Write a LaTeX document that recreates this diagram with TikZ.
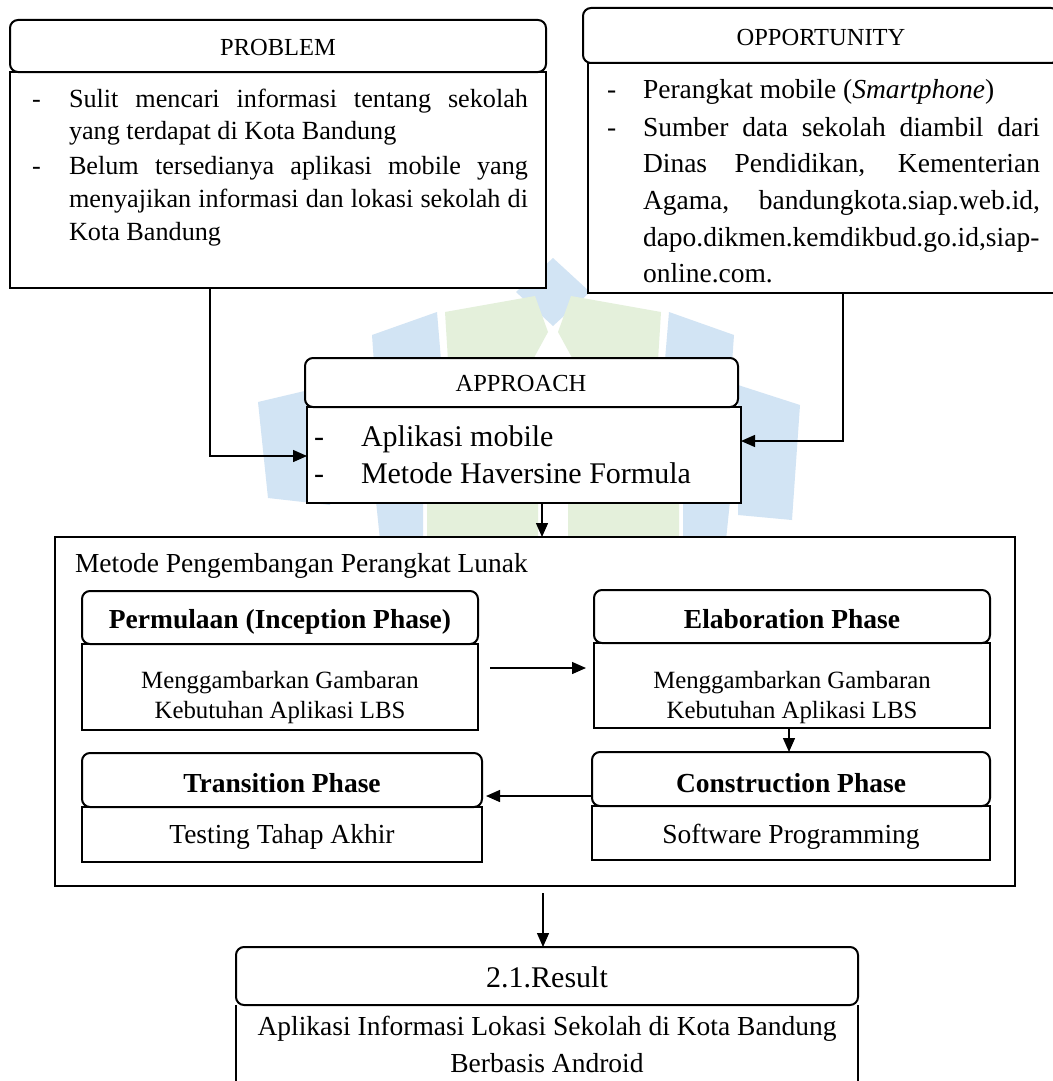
\documentclass[tikz,border=0pt]{standalone}
\usepackage{fontspec}
\setmainfont{Liberation Serif}
\usetikzlibrary{arrows.meta,calc}
\definecolor{wmblue}{RGB}{210,228,244}
\definecolor{wmgreen}{RGB}{228,240,219}
\newcommand{\jline}[2]{\makebox[#1pt][s]{#2}}
\begin{document}
\begin{tikzpicture}[x=1pt,y=-1pt,
  boxline/.style={draw=black,line width=2pt,fill=white,inner sep=0pt,outer sep=0pt},
  hdrbox/.style={boxline,rounded corners=8pt,anchor=north west},
  bodybox/.style={boxline,anchor=north west},
  conn/.style={draw=black,line width=1.4pt},
  arr/.style={conn,-{Triangle[length=14pt,width=12pt]}},
  txt/.style={inner sep=0pt,outer sep=0pt},
  hf/.style={txt,font=\fontsize{24.5}{29}\selectfont,anchor=base},
  pf/.style={txt,font=\fontsize{26.2}{33}\selectfont,anchor=base west},
  of/.style={txt,font=\fontsize{27.5}{36}\selectfont,anchor=base west},
  af/.style={txt,font=\fontsize{30}{36}\selectfont,anchor=base west},
  phf/.style={txt,font=\fontsize{27.5}{32}\selectfont\bfseries,anchor=base},
  bf/.style={txt,font=\fontsize{24.8}{30}\selectfont,anchor=base},
  cf/.style={txt,font=\fontsize{27.5}{32}\selectfont,anchor=base}
]
\fill[white] (0,0) rectangle (1052,1081);
\useasboundingbox (0,0) rectangle (1052,1081);

% watermark (faint logo behind the boxes)
\fill[wmblue] (553,258) -- (590,292) -- (553,326) -- (516,292) -- cycle;
\fill[wmblue] (372,335) -- (437,312) -- (447,432) -- (380,448) -- cycle;
\fill[wmblue] (669,312) -- (734,335) -- (726,448) -- (659,432) -- cycle;
\fill[wmblue] (258,402) -- (330,385) -- (330,505) -- (268,498) -- cycle;
\fill[wmblue] (738,385) -- (800,405) -- (792,520) -- (738,515) -- cycle;
\fill[wmblue] (372,462) -- (423,470) -- (423,540) -- (380,540) -- cycle;
\fill[wmblue] (683,470) -- (734,462) -- (726,540) -- (683,540) -- cycle;
\fill[wmgreen] (445,312) -- (535,296) -- (548,332) -- (500,420) -- (452,425) -- cycle;
\fill[wmgreen] (661,312) -- (571,296) -- (558,332) -- (606,420) -- (654,425) -- cycle;
\fill[wmgreen] (427,470) -- (538,458) -- (538,540) -- (427,540) -- cycle;
\fill[wmgreen] (568,458) -- (679,470) -- (679,540) -- (568,540) -- cycle;

% PROBLEM
\node[bodybox,minimum width=536pt,minimum height=216pt] (pb) at (10,72) {};
\node[hdrbox,minimum width=536pt,minimum height=52pt] (ph) at (10,20) {};
\node[hf] (pht) at (278,56) {PROBLEM};
\node[pf] (pd1) at (32,107) {-};
\node[pf] (p1) at (69,107) {\jline{459}{Sulit mencari informasi tentang sekolah}};
\node[pf] (p2) at (69,139) {yang terdapat di Kota Bandung};
\node[pf] (pd2) at (32,174) {-};
\node[pf] (p3) at (69,174) {\jline{459}{Belum tersedianya aplikasi mobile yang}};
\node[pf] (p4) at (69,207) {\jline{459}{menyajikan informasi dan lokasi sekolah di}};
\node[pf] (p5) at (69,240) {Kota Bandung};

% OPPORTUNITY
\node[bodybox,minimum width=475pt,minimum height=230pt] (ob) at (588,63) {};
\node[hdrbox,minimum width=476pt,minimum height=55pt] (oh) at (583,8) {};
\node[hf] (oht) at (821,46) {OPPORTUNITY};
\node[of] (od1) at (607,99) {-};
\node[of] (o1) at (643,99) {Perangkat mobile (\textit{Smartphone})};
\node[of] (od2) at (607,136) {-};
\node[of] (o2) at (643,136) {\jline{397}{Sumber data sekolah diambil dari}};
\node[of] (o3) at (643,172) {\jline{397}{Dinas Pendidikan, Kementerian}};
\node[of] (o4) at (643,209) {\jline{397}{Agama, bandungkota.siap.web.id,}};
\node[of] (o5) at (643,246) {\jline{397}{dapo.dikmen.kemdikbud.go.id,siap-}};
\node[of] (o6) at (643,282) {online.com.};

% APPROACH
\node[bodybox,minimum width=434pt,minimum height=96pt] (ab) at (307,407) {};
\node[hdrbox,minimum width=433pt,minimum height=49pt] (ah) at (305,358) {};
\node[hf] (aht) at (521,391) {APPROACH};
\node[af] (ad1) at (314,446) {-};
\node[af] (a1) at (361,446) {Aplikasi mobile};
\node[af] (ad2) at (314,483) {-};
\node[af] (a2) at (361,483) {Metode Haversine Formula};

% connectors into APPROACH
\coordinate (pl) at (210,456);
\coordinate (orr) at (843,441);
\draw[arr] (pb.south -| pl) -- (pl) -- (ab.west |- pl);
\draw[arr] (ob.south -| orr) -- (orr) -- (ab.east |- orr);

% outer method box
\node[bodybox,minimum width=960pt,minimum height=349pt] (mb) at (55,537) {};
\node[of] (mt) at (75,572) {Metode Pengembangan Perangkat Lunak};
\coordinate (xa) at (542,0);
\draw[arr] (ab.south -| xa) -- (mb.north -| xa);

% Inception
\node[bodybox,minimum width=396pt,minimum height=86pt] (ib) at (82,644) {};
\node[hdrbox,minimum width=396pt,minimum height=53pt] (ih) at (82,591) {};
\node[phf] (iht) at (280,628) {Permulaan (Inception Phase)};
\node[bf] (i1) at (280,688) {Menggambarkan Gambaran};
\node[bf] (i2) at (280,718) {Kebutuhan Aplikasi LBS};

% Elaboration
\node[bodybox,minimum width=396pt,minimum height=85pt] (eb) at (594,643) {};
\node[hdrbox,minimum width=396pt,minimum height=53pt] (eh) at (594,590) {};
\node[phf] (eht) at (792,628) {Elaboration Phase};
\node[bf] (e1) at (792,688) {Menggambarkan Gambaran};
\node[bf] (e2) at (792,718) {Kebutuhan Aplikasi LBS};

% Transition
\node[bodybox,minimum width=400pt,minimum height=55pt] (tb) at (82,807) {};
\node[hdrbox,minimum width=400pt,minimum height=54pt] (th) at (82,753) {};
\node[phf] (tht) at (282,792) {Transition Phase};
\node[cf] (t1) at (282,843) {Testing Tahap Akhir};

% Construction
\node[bodybox,minimum width=398pt,minimum height=54pt] (cb) at (592,806) {};
\node[hdrbox,minimum width=398pt,minimum height=54pt] (ch) at (592,752) {};
\node[phf] (cht) at (791,792) {Construction Phase};
\node[cf] (c1) at (791,843) {Software Programming};

% phase connectors
\coordinate (y668) at (0,668);
\coordinate (x789) at (789,0);
\coordinate (y796) at (0,796);
\draw[arr] ($(ib.east |- y668)+(12,0)$) -- ($(eb.west |- y668)+(-8,0)$);
\draw[arr] (eb.south -| x789) -- (ch.north -| x789);
\draw[arr] (ch.west |- y796) -- ($(th.east |- y796)+(4,0)$);

% Result
\node[hdrbox,minimum width=622pt,minimum height=58pt] (rh) at (236,947) {};
\draw[draw=black,line width=1.4pt] (rh.south west) -- ++(0,90);
\draw[draw=black,line width=1.4pt] (rh.south east) -- ++(0,90);
\node[txt,font=\fontsize{30}{36}\selectfont,anchor=base] (rht) at (547,987) {2.1.Result};
\node[cf] (r1) at (547,1035) {Aplikasi Informasi Lokasi Sekolah di Kota Bandung};
\node[cf] (r2) at (547,1072) {Berbasis Android};
\coordinate (xr) at (543,0);
\draw[arr] ($(mb.south -| xr)+(0,7)$) -- (rh.north -| xr);
\end{tikzpicture}
\end{document}
